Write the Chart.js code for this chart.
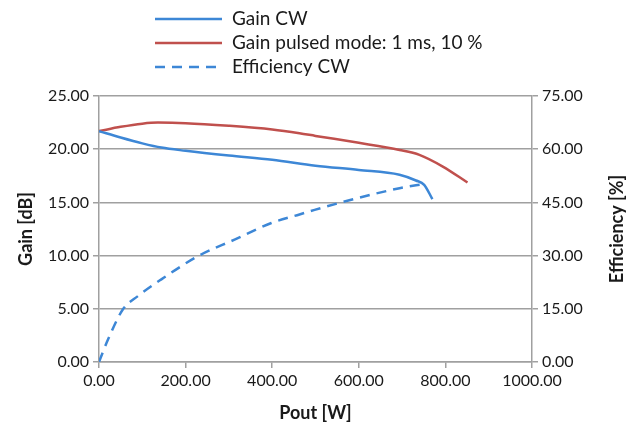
<!DOCTYPE html>
<html>
<head>
<meta charset="utf-8">
<script src="https://cdn.jsdelivr.net/npm/chart.js@4/dist/chart.umd.min.js"></script>
<style>
    html, body { margin: 0; padding: 0; background: #fff; }
    canvas { display: block; }
</style>
</head>
<body>
<canvas id="grafica" width="631" height="430"></canvas>
<script>
// Gain CW
const poutGananciaCW = [0, 50, 100, 144, 200, 300, 400, 500, 600, 694, 732, 751, 770];
const gananciaCW = [21.7, 21.1, 20.55, 20.15, 19.85, 19.4, 19.0, 18.45, 18.05, 17.6, 17.06, 16.65, 15.3];

// Gain pulsed mode: 1 ms, 10 %
const poutGananciaPulsos = [0, 50, 100, 136, 200, 300, 400, 463, 500, 600, 694, 740, 794, 851];
const gananciaPulsos = [21.7, 22.1, 22.4, 22.5, 22.45, 22.2, 21.85, 21.5, 21.25, 20.6, 19.93, 19.47, 18.37, 16.87];

// Efficiency CW
const poutEficiencia = [0, 21, 55, 90, 144, 228, 313, 398, 463, 498, 578, 694, 751];
const eficienciaCW = [0, 6.4, 14.8, 18.6, 23.3, 29.8, 34.5, 39.2, 41.6, 42.9, 45.6, 49.0, 50.2];

const etiquetas = ["Gain CW", "Gain pulsed mode: 1 ms, 10 %", "Efficiency CW"];
const titulos = { x: "Pout [W]", y: "Gain [dB]", y2: "Efficiency [%]" };

const azul = "#3d87d6";
const rojo = "#c0504d";
const gris = "#a0a0a0";
const texto = "#1a1a1a";
const fuente = "Lato, 'Open Sans', sans-serif";

function puntos(xs, ys) {
    return xs.map((x, i) => ({ x: x, y: ys[i] }));
}

// leyenda vertical y título del eje derecho (girado como el izquierdo)
const extras = {
    id: "extras",
    afterDraw(chart) {
        const ctx = chart.ctx;
        chart.data.datasets.forEach((ds, i) => {
            const y = 19 + i * 24;
            ctx.save();
            ctx.strokeStyle = ds.borderColor;
            ctx.lineWidth = ds.borderWidth;
            ctx.setLineDash(ds.borderDash || []);
            ctx.beginPath();
            ctx.moveTo(155, y);
            ctx.lineTo(222, y);
            ctx.stroke();
            ctx.setLineDash([]);
            ctx.fillStyle = texto;
            ctx.font = "19px " + fuente;
            ctx.textBaseline = "middle";
            ctx.fillText(ds.label, 232, y);
            ctx.restore();
        });

        const area = chart.chartArea;
        ctx.save();
        ctx.translate(617, (area.top + area.bottom) / 2);
        ctx.rotate(-Math.PI / 2);
        ctx.fillStyle = texto;
        ctx.font = "bold 18px " + fuente;
        ctx.textAlign = "center";
        ctx.textBaseline = "middle";
        ctx.fillText(titulos.y2, 0, 0);
        ctx.restore();
    }
};

const formato = (v) => Number(v).toFixed(2);
const fuenteTicks = { family: fuente, size: 16 };
const fuenteTitulo = { family: fuente, size: 18, weight: "bold" };

new Chart(document.querySelector("#grafica"), {
    type: "line",
    data: {
        datasets: [
            {
                label: etiquetas[0],
                data: puntos(poutGananciaCW, gananciaCW),
                borderColor: azul,
                borderWidth: 2.5,
                yAxisID: "y",
                cubicInterpolationMode: "monotone"
            },
            {
                label: etiquetas[1],
                data: puntos(poutGananciaPulsos, gananciaPulsos),
                borderColor: rojo,
                borderWidth: 2.5,
                yAxisID: "y",
                cubicInterpolationMode: "monotone"
            },
            {
                label: etiquetas[2],
                data: puntos(poutEficiencia, eficienciaCW),
                borderColor: azul,
                borderWidth: 2.5,
                borderDash: [10, 7],
                yAxisID: "y2",
                cubicInterpolationMode: "monotone"
            }
        ]
    },
    options: {
        responsive: false,
        animation: false,
        layout: { padding: { top: 96, left: 0, right: 0, bottom: 0 } },
        elements: { point: { radius: 0 } },
        plugins: {
            legend: { display: false },
            tooltip: { enabled: false }
        },
        scales: {
            x: {
                type: "linear",
                min: 0,
                max: 1000,
                afterFit: (s) => { s.height = 68; },
                border: { color: gris, width: 1.5 },
                grid: { drawOnChartArea: false, color: gris, lineWidth: 1.5, tickLength: 6 },
                ticks: { stepSize: 200, callback: formato, color: texto, font: fuenteTicks, padding: 3 },
                title: { display: true, text: titulos.x, color: texto, font: fuenteTitulo, padding: { top: 0, bottom: 6 } }
            },
            y: {
                position: "left",
                min: 0,
                max: 25,
                afterFit: (s) => { s.width = 99; },
                border: { color: gris, width: 1.5 },
                grid: { color: gris, lineWidth: 1.5, tickLength: 6 },
                ticks: { stepSize: 5, callback: formato, color: texto, font: fuenteTicks, padding: 4 },
                title: { display: true, text: titulos.y, color: texto, font: fuenteTitulo, padding: { top: 15, bottom: 0 } }
            },
            y2: {
                position: "right",
                min: 0,
                max: 75,
                afterFit: (s) => { s.width = 99; },
                border: { color: gris, width: 1.5 },
                grid: { drawOnChartArea: false, color: gris, lineWidth: 1.5, tickLength: 6 },
                ticks: { stepSize: 15, callback: formato, color: texto, font: fuenteTicks, padding: 4 }
            }
        }
    },
    plugins: [extras]
});
</script>
</body>
</html>
